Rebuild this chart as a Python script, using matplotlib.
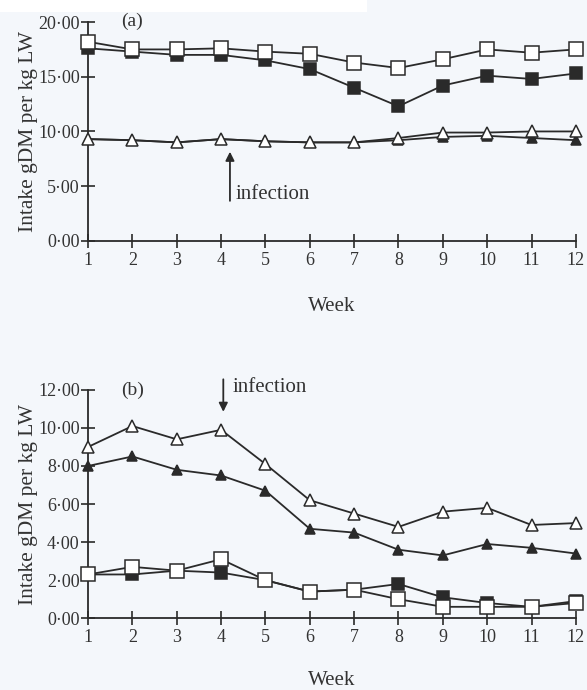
import matplotlib
matplotlib.use("Agg")
import matplotlib.pyplot as plt
from matplotlib.patches import Rectangle

weeks = list(range(1, 13))

# Panel (a)
a_open_sq = [18.2, 17.5, 17.5, 17.6, 17.3, 17.1, 16.3, 15.8, 16.6, 17.5, 17.2, 17.5]
a_fill_sq = [17.6, 17.3, 17.0, 17.0, 16.5, 15.7, 14.0, 12.3, 14.2, 15.1, 14.8, 15.3]
a_open_tri = [9.3, 9.2, 9.0, 9.3, 9.1, 9.0, 9.0, 9.4, 9.9, 9.9, 10.0, 10.0]
a_fill_tri = [9.3, 9.2, 9.0, 9.3, 9.1, 9.0, 9.0, 9.2, 9.5, 9.6, 9.4, 9.2]

# Panel (b)
b_open_tri = [9.0, 10.1, 9.4, 9.9, 8.1, 6.2, 5.5, 4.8, 5.6, 5.8, 4.9, 5.0]
b_fill_tri = [8.0, 8.5, 7.8, 7.5, 6.7, 4.7, 4.5, 3.6, 3.3, 3.9, 3.7, 3.4]
b_open_sq = [2.3, 2.7, 2.5, 3.1, 2.0, 1.4, 1.5, 1.0, 0.6, 0.6, 0.6, 0.8]
b_fill_sq = [2.3, 2.3, 2.5, 2.4, 2.0, 1.4, 1.5, 1.8, 1.1, 0.8, 0.6, 0.9]

a_yticks = [0, 5, 10, 15, 20]
b_yticks = [0, 2, 4, 6, 8, 10, 12]

plt.rcParams['font.family'] = ['Liberation Serif', 'DejaVu Serif']

bg = '#f4f7fb'
fig = plt.figure(figsize=(5.87, 6.90), dpi=100, facecolor=bg)
fig.patches.append(Rectangle((0, 0.982), 0.625, 0.018, transform=fig.transFigure,
                             facecolor='white', edgecolor='none', zorder=-5))

line_col = '#2a2a2a'
txt_col = '#333333'


def fmt(v):
    return f"{v:.2f}".replace('.', '·')


def style_axes(ax, yticks, ymax, xlabelpad):
    ax.set_facecolor('none')
    for s in ['top', 'right']:
        ax.spines[s].set_visible(False)
    for s in ['left', 'bottom']:
        ax.spines[s].set_color(line_col)
        ax.spines[s].set_linewidth(1.3)
    ax.set_xlim(1, 12)
    ax.set_ylim(0, ymax)
    ax.set_xticks(weeks)
    ax.set_xticklabels([str(w) for w in weeks], fontsize=13, color=txt_col)
    ax.set_yticks(yticks)
    ax.set_yticklabels([fmt(v) for v in yticks], fontsize=13, color=txt_col)
    ax.tick_params(direction='inout', length=10, width=1.2, color=line_col, pad=1)
    ax.tick_params(axis='x', pad=3)
    ax.set_xlabel('Week', fontsize=15, color=txt_col, labelpad=xlabelpad)
    ax.set_ylabel('Intake gDM per kg LW', fontsize=15.5, color=txt_col, labelpad=0)


def plot_series(ax, y, marker, filled, ms):
    ax.plot(weeks, y, color=line_col, lw=1.3, marker=marker, ms=ms,
            mfc=line_col if filled else 'white', mec=line_col, mew=1.1,
            clip_on=False, zorder=3)


# Panel (a)
axa = fig.add_axes([0.150, 0.651, 0.831, 0.317])
style_axes(axa, a_yticks, 20, 20)
plot_series(axa, a_fill_tri, '^', True, 7.5)
plot_series(axa, a_open_tri, '^', False, 8.5)
plot_series(axa, a_fill_sq, 's', True, 8)
plot_series(axa, a_open_sq, 's', False, 9.5)
axa.text(1.75, 20.1, '(a)', fontsize=14, color=txt_col, va='center')
axa.annotate('', xy=(4.2, 8.4), xytext=(4.2, 3.4),
             arrowprops=dict(arrowstyle='-|>', color=line_col, lw=1.3, mutation_scale=13))
axa.text(4.33, 4.2, 'infection', fontsize=15, color=txt_col, va='center')

# Panel (b)
axb = fig.add_axes([0.150, 0.104, 0.831, 0.331])
style_axes(axb, b_yticks, 12, 18)
plot_series(axb, b_fill_sq, 's', True, 8)
plot_series(axb, b_open_sq, 's', False, 9.5)
plot_series(axb, b_fill_tri, '^', True, 7.5)
plot_series(axb, b_open_tri, '^', False, 8.5)
axb.text(1.75, 12.0, '(b)', fontsize=14, color=txt_col, va='center')
axb.annotate('', xy=(4.05, 10.7), xytext=(4.05, 12.7),
             arrowprops=dict(arrowstyle='-|>', color=line_col, lw=1.3, mutation_scale=13))
axb.text(4.25, 12.1, 'infection', fontsize=15, color=txt_col, va='center')

fig.savefig('out.png', dpi=100, facecolor=bg)
